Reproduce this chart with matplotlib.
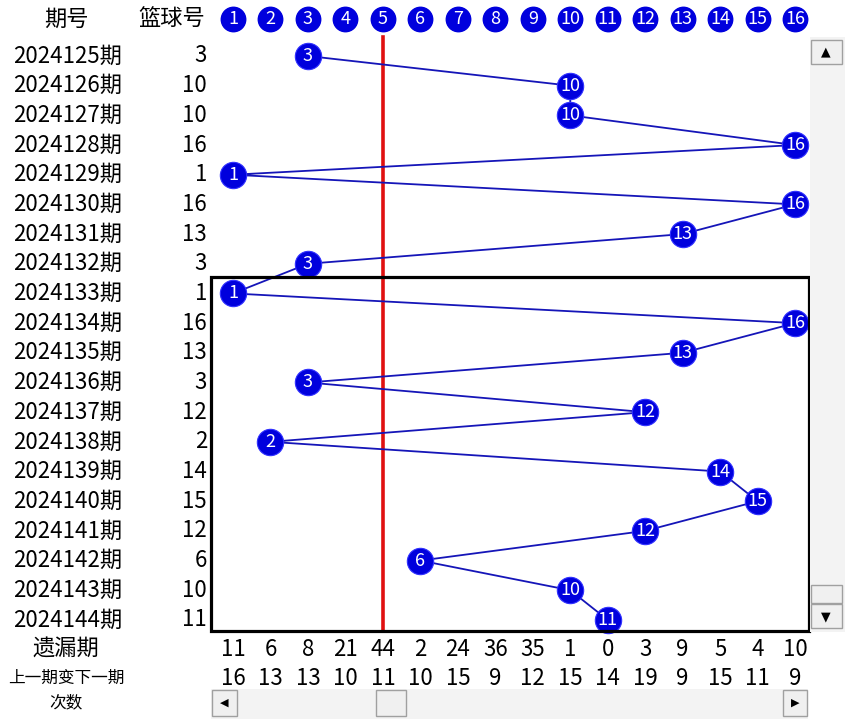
import matplotlib.pyplot as plt
import matplotlib.patches as patches

plt.rcParams['font.family'] = ['Noto Sans CJK SC', 'DejaVu Sans']

# data
periods = ['2024125期', '2024126期', '2024127期', '2024128期', '2024129期',
           '2024130期', '2024131期', '2024132期', '2024133期', '2024134期',
           '2024135期', '2024136期', '2024137期', '2024138期', '2024139期',
           '2024140期', '2024141期', '2024142期', '2024143期', '2024144期']
balls = [3, 10, 10, 16, 1, 16, 13, 3, 1, 16, 13, 3, 12, 2, 14, 15, 12, 6, 10, 11]
numbers = list(range(1, 17))
missing = [11, 6, 8, 21, 44, 2, 24, 36, 35, 1, 0, 3, 9, 5, 4, 10]
change = [16, 13, 13, 10, 11, 10, 15, 9, 12, 15, 14, 19, 9, 15, 11, 9]
highlight_col = 5
box_from = '2024133期'

BLUE = '#0000DD'
LINE = '#1515B8'
W, H = 848, 722
X0, DX = 233, 37.47   # pixel x of column 1, column step
Y0, DY = 56, 29.68    # pixel y of first row, row step

fig = plt.figure(figsize=(W / 100, H / 100), dpi=100)
ax = fig.add_axes([0, 0, 1, 1])
ax.set_xlim(1 - X0 / DX, 1 + (W - X0) / DX)
ax.set_ylim((H - Y0) / DY, -Y0 / DY)
ax.axis('off')

rows = list(range(len(periods)))
lbl_x = 1 + (122 - X0) / DX
ball_x = 1 + (207 - X0) / DX
mid_x = 1 + (66 - X0) / DX
hdr_y = -1.25
fs = 16

# header
ax.text(mid_x, hdr_y, '期号', ha='center', va='center', fontsize=fs)
ax.text(1 + (172 - X0) / DX, hdr_y, '篮球号', ha='center', va='center', fontsize=fs)
ax.scatter(numbers, [hdr_y] * len(numbers), s=310, color=BLUE, zorder=3)
for n in numbers:
    ax.text(n, hdr_y, str(n), ha='center', va='center', color='white',
            fontsize=13, zorder=4)

# period labels and blue number column
for r, p, b in zip(rows, periods, balls):
    ax.text(lbl_x, r, p, ha='right', va='center', fontsize=fs)
    ax.text(ball_x, r, str(b), ha='right', va='center', fontsize=fs)

# red marker column
ax.plot([highlight_col, highlight_col], [-0.65, len(rows) - 0.7],
        color='#E01010', lw=2.6, zorder=1)

# trend line and balls
ax.plot(balls, rows, color=LINE, lw=1.3, zorder=2)
ax.scatter(balls, rows, s=360, color=BLUE, edgecolor='#3030FF', lw=0.8, zorder=3)
for r, b in zip(rows, balls):
    ax.text(b, r, str(b), ha='center', va='center', color='white',
            fontsize=13, zorder=4)

# black frame around the recent periods
start = periods.index(box_from)
bx0 = 1 + (211 - X0) / DX
bx1 = 1 + (809 - X0) / DX
by0 = start - 0.55
by1 = len(rows) - 0.63
ax.add_patch(patches.Rectangle((bx0, by0), bx1 - bx0, by1 - by0, fill=False,
                               edgecolor='black', lw=2.3, zorder=5))

# bottom stats
miss_y = len(rows)
chg_y = len(rows) + 0.98
ax.text(mid_x, miss_y, '遗漏期', ha='center', va='center', fontsize=fs)
ax.text(mid_x, chg_y, '上一期变下一期', ha='center', va='center', fontsize=12)
ax.text(mid_x, chg_y + 0.8, '次数', ha='center', va='center', fontsize=12)
for n, m, c in zip(numbers, missing, change):
    ax.text(n, miss_y, str(m), ha='center', va='center', fontsize=fs)
    ax.text(n, chg_y, str(c), ha='center', va='center', fontsize=fs)


# scrollbars (drawn in pixel units)
def px_rect(x, y, w, h, **kw):
    ax.add_patch(patches.Rectangle((1 + (x - X0) / DX, (y - Y0) / DY),
                                   w / DX, h / DY, zorder=6, **kw))


px_rect(810, 37, 35, 595, facecolor='#F3F3F3', edgecolor='none')
px_rect(811, 40, 31, 24, facecolor='#F0F0F0', edgecolor='#A0A0A0', lw=1)
px_rect(811, 585, 31, 18, facecolor='#F0F0F0', edgecolor='#A0A0A0', lw=1)
px_rect(811, 604, 31, 24, facecolor='#F0F0F0', edgecolor='#A0A0A0', lw=1)
px_rect(211, 689, 597, 30, facecolor='#F3F3F3', edgecolor='none')
px_rect(212, 690, 25, 26, facecolor='#F0F0F0', edgecolor='#A0A0A0', lw=1)
px_rect(376, 690, 30, 26, facecolor='#F0F0F0', edgecolor='#A0A0A0', lw=1)
px_rect(783, 690, 24, 26, facecolor='#F0F0F0', edgecolor='#A0A0A0', lw=1)
ax.text(1 + (826 - X0) / DX, (52 - Y0) / DY, '▲', ha='center', va='center',
        fontsize=9, family='DejaVu Sans', zorder=7)
ax.text(1 + (826 - X0) / DX, (617 - Y0) / DY, '▼', ha='center', va='center',
        fontsize=9, family='DejaVu Sans', zorder=7)
ax.text(1 + (224 - X0) / DX, (703 - Y0) / DY, '◀', ha='center', va='center',
        fontsize=8, family='DejaVu Sans', zorder=7)
ax.text(1 + (795 - X0) / DX, (703 - Y0) / DY, '▶', ha='center', va='center',
        fontsize=8, family='DejaVu Sans', zorder=7)

fig.savefig('out.png', dpi=100)
